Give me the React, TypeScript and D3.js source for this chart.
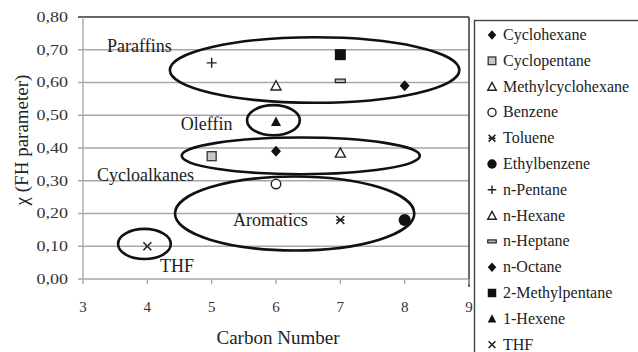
import React from "react";
import * as d3 from "d3";

const seriesNames = [
  "Cyclohexane", "Cyclopentane", "Methylcyclohexane", "Benzene", "Toluene",
  "Ethylbenzene", "n-Pentane", "n-Hexane", "n-Heptane", "n-Octane",
  "2-Methylpentane", "1-Hexene", "THF",
];
const seriesMarker = [
  "diamond", "graySquare", "openTriangle", "openCircle", "asterisk",
  "filledCircle", "plus", "openTriangle", "dash", "diamond",
  "filledSquare", "filledTriangle", "cross",
];
const seriesX = [6, 5, 7, 6, 7, 8, 5, 6, 7, 8, 7, 6, 4];
const seriesY = [0.39, 0.375, 0.385, 0.29, 0.18, 0.18, 0.66, 0.59, 0.605, 0.59, 0.685, 0.48, 0.10];

const xTicks = [3, 4, 5, 6, 7, 8, 9];
const yTicks = [0, 0.1, 0.2, 0.3, 0.4, 0.5, 0.6, 0.7, 0.8];

const groupNames = ["Paraffins", "Oleffin", "Cycloalkanes", "Aromatics", "THF"];
const groupCx = [6.6, 5.96, 6.385, 6.29, 3.955];
const groupCy = [0.638, 0.485, 0.376, 0.2, 0.107];
const groupRx = [2.25, 0.41, 1.85, 1.86, 0.41];
const groupRy = [0.1, 0.046, 0.056, 0.113, 0.046];
const labelX = [3.373, 4.52, 3.217, 5.33, 4.196];
const labelY = [0.693, 0.455, 0.299, 0.162, 0.021];

const W = 638, H = 352;
const M = { left: 83, right: 469, top: 17, bottom: 279 };
const FONT = "Liberation Serif, DejaVu Serif, serif";
const ts = { fontFamily: FONT };

function Marker({ kind, x, y, s }: { kind: string; x: number; y: number; s: number }) {
  const h = s / 2;
  switch (kind) {
    case "diamond":
      return <path d={`M${x},${y - h * 1.1}L${x + h},${y}L${x},${y + h * 1.1}L${x - h},${y}Z`} fill="#111" />;
    case "graySquare":
      return <rect x={x - h * 0.9} y={y - h * 0.9} width={h * 1.8} height={h * 1.8} fill="#c8c8c8" stroke="#333" strokeWidth={1.3} />;
    case "filledSquare":
      return <rect x={x - h} y={y - h} width={h * 2} height={h * 2} fill="#111" />;
    case "openTriangle":
      return <path d={`M${x},${y - h}L${x + h},${y + h * 0.85}L${x - h},${y + h * 0.85}Z`} fill="#fff" stroke="#222" strokeWidth={1.4} />;
    case "filledTriangle":
      return <path d={`M${x},${y - h * 1.05}L${x + h},${y + h * 0.85}L${x - h},${y + h * 0.85}Z`} fill="#111" />;
    case "openCircle":
      return <circle cx={x} cy={y} r={h * 0.95} fill="#fff" stroke="#222" strokeWidth={1.4} />;
    case "filledCircle":
      return <circle cx={x} cy={y} r={h * 1.1} fill="#111" />;
    case "plus":
      return <path d={`M${x - h},${y}H${x + h}M${x},${y - h}V${y + h}`} stroke="#222" strokeWidth={1.4} />;
    case "cross":
      return <path d={`M${x - h * 0.8},${y - h * 0.8}L${x + h * 0.8},${y + h * 0.8}M${x + h * 0.8},${y - h * 0.8}L${x - h * 0.8},${y + h * 0.8}`} stroke="#222" strokeWidth={1.6} />;
    case "asterisk":
      return <path d={`M${x - h * 0.8},${y - h * 0.8}L${x + h * 0.8},${y + h * 0.8}M${x + h * 0.8},${y - h * 0.8}L${x - h * 0.8},${y + h * 0.8}M${x - h * 0.8},${y}H${x + h * 0.8}`} stroke="#222" strokeWidth={1.6} />;
    case "dash":
      return <rect x={x - h} y={y - h * 0.35} width={h * 2} height={h * 0.7} fill="#bbb" stroke="#222" strokeWidth={1.2} />;
    default:
      return null;
  }
}

export default function App() {
  const x = d3.scaleLinear().domain([3, 9]).range([M.left, M.right]);
  const y = d3.scaleLinear().domain([0, 0.8]).range([M.bottom, M.top]);
  const fmt = (v: number) => d3.format(".2f")(v).replace(".", ",");

  return (
    <svg width={W} height={H} style={{ position: "absolute", left: 0, top: 0, background: "#fff" }}>
      <rect x={0} y={0} width={W} height={H} fill="#fff" />
      {yTicks.map((t) => (
        <line key={"g" + t} x1={M.left - 5} x2={M.right} y1={y(t)} y2={y(t)}
          stroke={t === 0.8 ? "#333" : "#a8a8a8"} strokeWidth={t === 0.8 ? 1.6 : 1.4} />
      ))}
      <line x1={M.left} x2={M.left} y1={M.top} y2={M.bottom} stroke="#a8a8a8" strokeWidth={1.4} />
      <line x1={M.right} x2={M.right} y1={M.top} y2={M.bottom + 8} stroke="#444" strokeWidth={1.6} />
      {xTicks.map((t) => (
        <line key={"xt" + t} x1={x(t)} x2={x(t)} y1={M.bottom} y2={M.bottom + 5} stroke="#a8a8a8" strokeWidth={1.4} />
      ))}
      {yTicks.map((t) => (
        <text key={"yl" + t} x={68} y={y(t) + 5} textAnchor="end" fontSize={15} fill="#333" style={ts}
          transform={`translate(68,0) scale(1.2,1) translate(-68,0)`}>{fmt(t)}</text>
      ))}
      {xTicks.map((t) => (
        <text key={"xl" + t} x={x(t)} y={312} textAnchor="middle" fontSize={15} fill="#333" style={ts}>{t}</text>
      ))}
      <text x={278} y={344} textAnchor="middle" fontSize={19} fill="#222" style={ts}>Carbon Number</text>
      <text transform={`translate(28,140) rotate(-90)`} textAnchor="middle" fontSize={19} fill="#222" style={ts}>χ (FH parameter)</text>
      {groupNames.map((g, i) => (
        <ellipse key={"e" + g} cx={x(groupCx[i])} cy={y(groupCy[i])}
          rx={x(groupCx[i] + groupRx[i]) - x(groupCx[i])}
          ry={y(groupCy[i]) - y(groupCy[i] + groupRy[i])}
          fill="none" stroke="#111" strokeWidth={2.6} />
      ))}
      {groupNames.map((g, i) => (
        <text key={"l" + g} x={x(labelX[i])} y={y(labelY[i])} fontSize={18} fill="#222" style={ts}>{g}</text>
      ))}
      {seriesNames.map((n, i) => (
        <Marker key={"p" + n} kind={seriesMarker[i]} x={x(seriesX[i])} y={y(seriesY[i])}
          s={seriesMarker[i] === "filledSquare" ? 11 : seriesMarker[i] === "filledCircle" ? 11 : 10} />
      ))}
      <rect x={474.5} y={20.5} width={200} height={400} fill="#fff" stroke="#444" strokeWidth={1.4} />
      {seriesNames.map((n, i) => (
        <g key={"lg" + n}>
          <Marker kind={seriesMarker[i]} x={492} y={35 + i * 25.8} s={8.5} />
          <text x={503} y={35 + i * 25.8 + 5} fontSize={16} fill="#222" style={ts}>{n}</text>
        </g>
      ))}
    </svg>
  );
}
